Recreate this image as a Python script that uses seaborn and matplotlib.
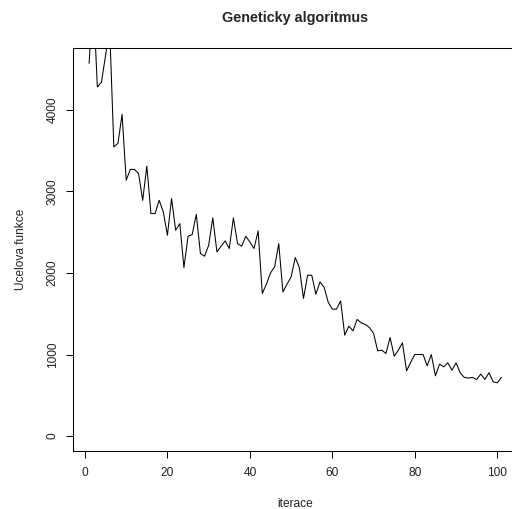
import matplotlib
matplotlib.use("Agg")
import matplotlib.pyplot as plt
import seaborn as sns
import numpy as np
import pandas as pd

iterations = list(range(1, 102))
fitness = [
    4570, 5400, 4280, 4340, 4670, 4990, 3545, 3590, 3945, 3136,
    3270, 3270, 3218, 2890, 3311, 2728, 2728, 2891, 2748, 2462,
    2912, 2523, 2605, 2066, 2450, 2470, 2719, 2238, 2205, 2340,
    2675, 2258, 2327, 2393, 2299, 2675, 2360, 2327, 2450, 2380,
    2300, 2515, 1748, 1862, 2000, 2074, 2360, 1768, 1862, 1951,
    2189, 2066, 1687, 1972, 1972, 1740, 1890, 1825, 1640, 1556,
    1556, 1657, 1237, 1348, 1290, 1430, 1388, 1368, 1331, 1258,
    1045, 1053, 1013, 1209, 980, 1053, 1143, 800, 905, 1000,
    1000, 1000, 861, 1000, 739, 882, 849, 898, 808, 898,
    776, 719, 711, 719, 694, 760, 694, 776, 665, 653,
    719,
]
xticks = [0, 20, 40, 60, 80, 100]
yticks = [0, 1000, 2000, 3000, 4000]
title = "Geneticky algoritmus"
xlabel = "iterace"
ylabel = "Ucelova funkce"

sns.set_style("ticks")
plt.rcParams['font.family'] = ['Liberation Sans', 'DejaVu Sans']

df = pd.DataFrame({"iterace": iterations, "fitness": fitness})

fig = plt.figure(figsize=(5.12, 5.09), dpi=100)
ax = fig.add_axes([72.6 / 512, 58 / 509, 445.3 / 512, 403 / 509])
sns.lineplot(data=df, x="iterace", y="fitness", ax=ax, color="black", linewidth=0.75)

ymax = 4575
ax.set_xlim(1 - 4, 101 + 4)
ax.set_ylim(-0.04 * ymax, 1.04 * ymax)
ax.set_xticks(xticks)
ax.set_yticks(yticks)
ax.set_xticklabels([str(t) for t in xticks])
ax.set_yticklabels([str(t) for t in yticks], rotation=90, va="center")

for s in ax.spines.values():
    s.set_visible(True)
    s.set_color("black")
    s.set_linewidth(0.75)

ax.tick_params(axis="both", direction="out", length=5.0, width=0.72,
               colors="black", labelsize=8.6, pad=6.3)
ax.tick_params(axis="y", pad=5.0)
for lbl in ax.get_xticklabels() + ax.get_yticklabels():
    lbl.set_color("#222222")

ax.set_xlabel(xlabel, fontsize=8.6, color="#222222")
ax.set_ylabel(ylabel, fontsize=8.6, color="#222222")
ax.xaxis.set_label_coords(0.5, (451 - 504) / 403)
ax.xaxis.label.set_va("center")
ax.yaxis.set_label_coords((21 - 72.6) / 445.3, 0.5)
ax.yaxis.label.set_va("center")

ax.set_title(title, fontsize=10.4, fontweight="bold", y=(451 - 18) / 403, va="center", pad=0)
ax.grid(False)

fig.savefig("out.png", dpi=100)
